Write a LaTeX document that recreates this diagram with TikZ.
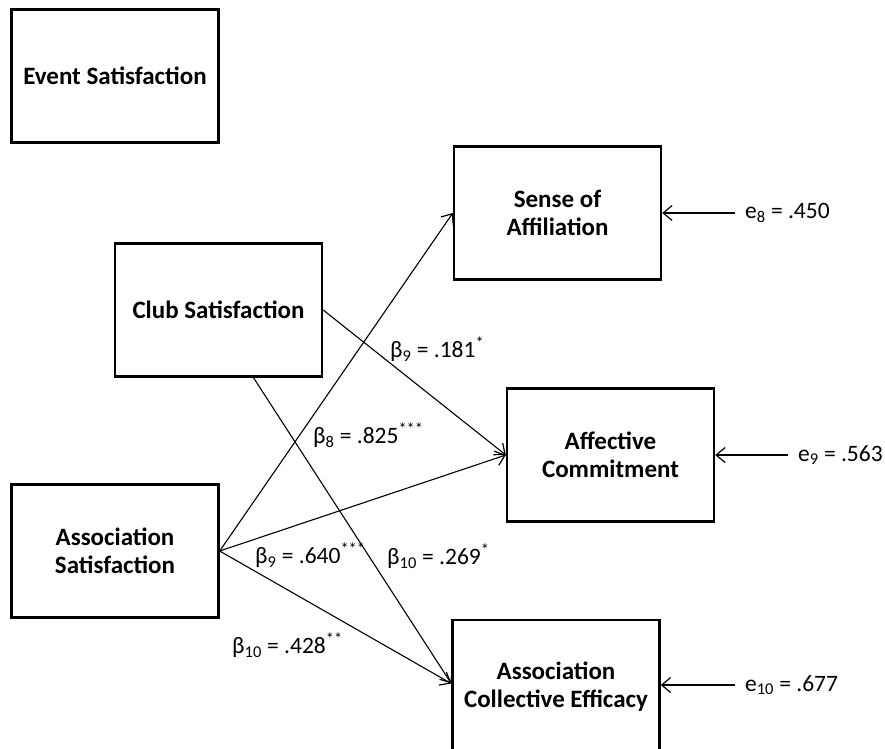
\documentclass[tikz,border=0pt]{standalone}
\usepackage{fontspec}
\setmainfont{Carlito}
\usetikzlibrary{arrows.meta}
\newcommand{\coefval}[3]{β\textsubscript{#1} = #2\textsuperscript{#3}}
\newcommand{\errval}[2]{e\textsubscript{#1} = #2}
\begin{document}
\begin{tikzpicture}[x=1pt,y=-1pt,
  varbox/.style={draw, line width=2.4pt, minimum width=207pt, minimum height=133pt,
    align=center, inner sep=0pt, font=\fontsize{25}{28}\selectfont\bfseries},
  effect/.style={line width=1.1pt,
    -{Straight Barb[length=9pt,width=15pt,line width=1.2pt]}},
  coef/.style={anchor=west, inner sep=0pt, font=\fontsize{23.5}{27}\selectfont},
  errlab/.style={anchor=west, inner ysep=0pt, inner xsep=10pt, font=\fontsize{23.5}{27}\selectfont},
]
\clip (0,0) rectangle (885,748);

% observed variables
\node[varbox] (event)  at (115,76)    {Event Satisfaction};
\node[varbox] (club)   at (218.5,310) {Club Satisfaction};
\node[varbox] (assoc)  at (115,551)   {Association\\Satisfaction};
\node[varbox] (sense)  at (557.5,213) {Sense of\\Affiliation};
\node[varbox] (affect) at (610.5,455) {Affective\\Commitment};
\node[varbox] (ace)    at (556,686.5) {Association\\Collective Efficacy};

% structural paths
\coordinate (clubfoot) at ([xshift=35pt]club.south);
\draw[effect] (assoc.east) -- (sense.west);
\draw[effect] (assoc.east) -- (affect.west);
\draw[effect] (assoc.east) -- ([yshift=3pt]ace.west);
\draw[effect] (club.east) -- (affect.west);
\draw[effect] (clubfoot) -- ([yshift=3pt]ace.west);

% path coefficients
\node[coef] (b9club)   at (390,349) {\coefval{9}{.181}{*}};
\node[coef] (b8assoc)  at (313,435) {\coefval{8}{.825}{***}};
\node[coef] (b9assoc)  at (255,555) {\coefval{9}{.640}{***}};
\node[coef] (b10club)  at (387,556) {\coefval{10}{.269}{*}};
\node[coef] (b10assoc) at (232,645) {\coefval{10}{.428}{**}};

% error terms
\node[errlab] (e8)  at (735,213) {\errval{8}{.450}};
\node[errlab] (e9)  at (788,455) {\errval{9}{.563}};
\node[errlab] (e10) at (735,685) {\errval{10}{.677}};
\draw[effect] (e8.west)  -- (sense.east);
\draw[effect] (e9.west)  -- (affect.east);
\draw[effect] (e10.west) -- (ace.east |- e10.west);
\end{tikzpicture}
\end{document}
